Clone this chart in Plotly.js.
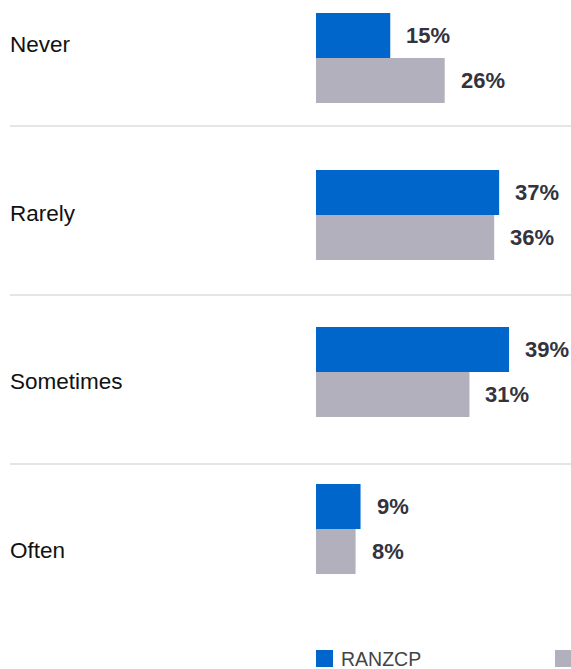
<!DOCTYPE html>
<html>
<head>
<meta charset="utf-8">
<script src="https://cdn.plot.ly/plotly-3.0.1.min.js"></script>
<style>html,body{margin:0;padding:0;background:#fff;}#chart{width:571px;height:669px;}</style>
</head>
<body>
<div id="chart"></div>
<script>
const categories = ["Never", "Rarely", "Sometimes", "Often"];
const ranzcpValues = [15, 37, 39, 9];
const otherValues = [26, 36, 31, 8];
const seriesNames = ["RANZCP", "Other specialties"];

const W = 571, H = 669;
const BLUE = "#0066CC", GREY = "#B1B0BC";
const FONT = "Liberation Sans, Arial, sans-serif";

// pixel mapping helpers (layout only)
const groupSpacing = 157, firstCenter = 58;
const yTop = (0 - firstCenter) / groupSpacing;
const yBot = (H - firstCenter) / groupSpacing;
const pxPerUnit = 4.95;
const xStart = 316;
const xMax = (W - xStart) / pxPerUnit;

const traces = [
  {type: "bar", orientation: "h", name: seriesNames[0], y: categories, x: ranzcpValues,
   marker: {color: BLUE}, hoverinfo: "x+y"},
  {type: "bar", orientation: "h", name: seriesNames[1], y: categories, x: otherValues,
   marker: {color: GREY}, hoverinfo: "x+y"}
];

const bargap = 0.427;
const half = (1 - bargap) / 4;
const annotations = [];
categories.forEach((c, i) => {
  annotations.push({x: ranzcpValues[i], y: i - half, xref: "x", yref: "y", text: ranzcpValues[i] + "%",
    showarrow: false, xanchor: "left", yanchor: "middle", xshift: 14,
    font: {family: FONT, size: 22, color: "#33333d", weight: "bold"}});
  annotations.push({x: otherValues[i], y: i + half, xref: "x", yref: "y", text: otherValues[i] + "%",
    showarrow: false, xanchor: "left", yanchor: "middle", xshift: 14,
    font: {family: FONT, size: 22, color: "#33333d", weight: "bold"}});
});
const labelPx = [44, 213, 382, 550];
categories.forEach((c, i) => {
  annotations.push({x: 8 / W, y: 1 - labelPx[i] / H, xref: "paper", yref: "paper", text: c,
    showarrow: false, xanchor: "left", yanchor: "middle",
    font: {family: FONT, size: 22.5, color: "#111111"}});
});
// legend text
annotations.push({x: 339 / W, y: 1 - 659 / H, xref: "paper", yref: "paper", text: seriesNames[0],
  showarrow: false, xanchor: "left", yanchor: "middle", font: {family: FONT, size: 19.5, color: "#444444"}});

const shapes = [];
[126, 295, 464].forEach(py => {
  shapes.push({type: "line", xref: "paper", yref: "paper", x0: 10 / W, x1: 1, y0: 1 - py / H, y1: 1 - py / H,
    line: {color: "#DDDDDD", width: 1.5}});
});
shapes.push({type: "rect", xref: "paper", yref: "paper", x0: 316 / W, x1: 333 / W, y0: 1 - 667 / H, y1: 1 - 650 / H,
  fillcolor: BLUE, line: {width: 0}});
shapes.push({type: "rect", xref: "paper", yref: "paper", x0: 555 / W, x1: 572 / W, y0: 1 - 667 / H, y1: 1 - 650 / H,
  fillcolor: GREY, line: {width: 0}});

const layout = {
  width: W, height: H,
  margin: {l: 0, r: 0, t: 0, b: 0, pad: 0},
  paper_bgcolor: "#fff", plot_bgcolor: "#fff",
  showlegend: false,
  barmode: "group", bargap: bargap, bargroupgap: 0,
  xaxis: {domain: [xStart / W, 1], range: [0, xMax], showgrid: false, zeroline: false,
          showticklabels: false, showline: false, fixedrange: true},
  yaxis: {type: "category", range: [yBot, yTop], showgrid: false, zeroline: false,
          showticklabels: false, showline: false, fixedrange: true},
  annotations: annotations,
  shapes: shapes,
  font: {family: FONT}
};

Plotly.newPlot("chart", traces, layout, {displayModeBar: false, staticPlot: true});
</script>
</body>
</html>
